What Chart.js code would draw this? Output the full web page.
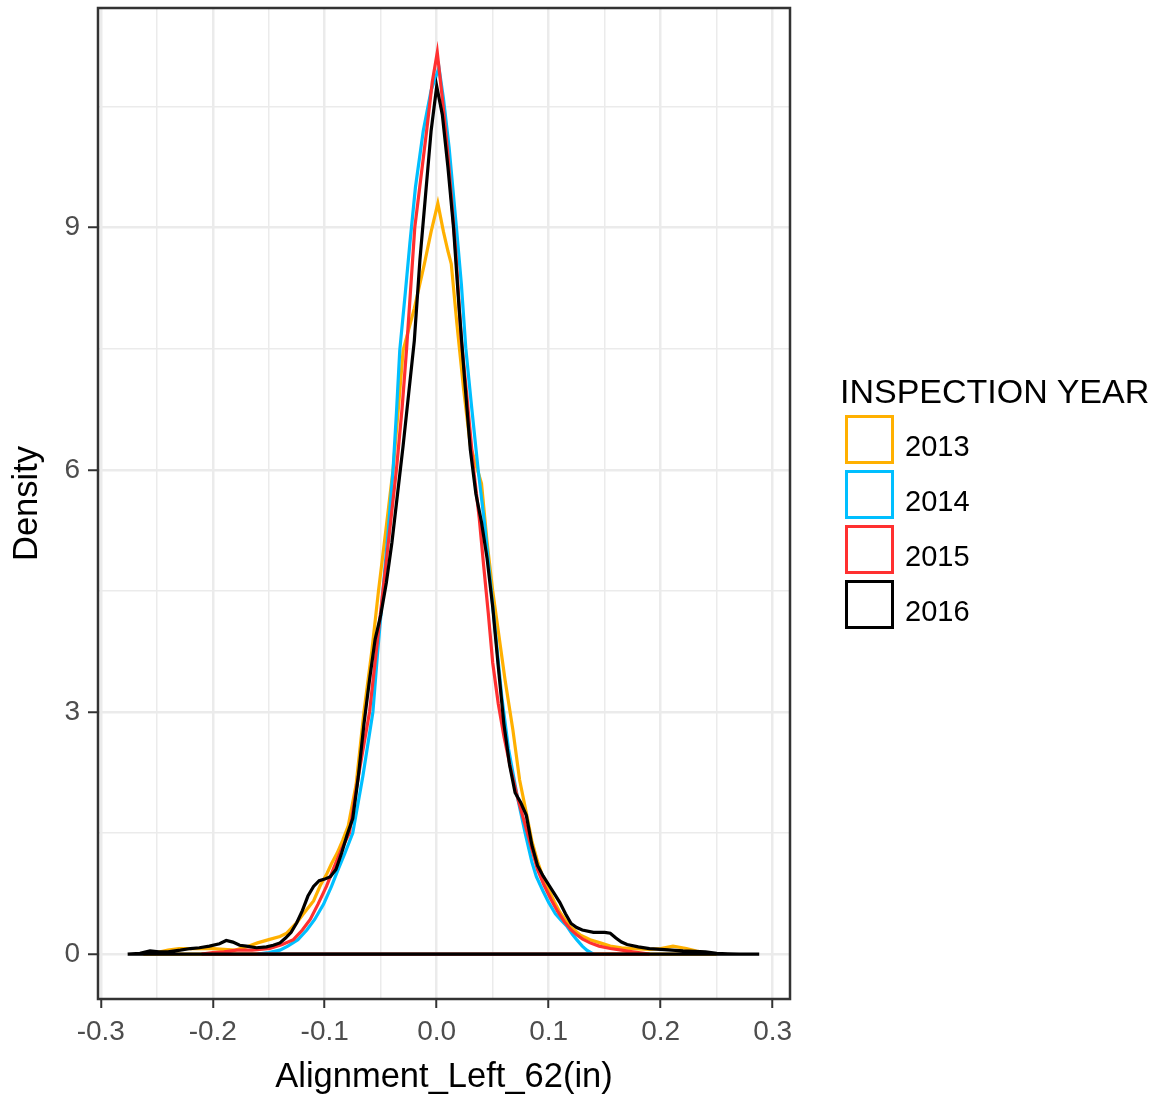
<!DOCTYPE html>
<html>
<head>
<meta charset="utf-8">
<title>Alignment_Left_62 density</title>
<script src="https://cdn.jsdelivr.net/npm/chart.js@4.4.0/dist/chart.umd.min.js"></script>
<style>
  body { margin: 0; background: #fff; }
  #wrap { position: relative; width: 1167px; height: 1101px; font-family: "Liberation Sans", Arial, sans-serif; }
  #legend .title { position: absolute; left: 840px; top: 374px; font-size: 34px; line-height: 34px; color: #000; white-space: nowrap; }
  #legend .key { position: absolute; left: 845px; width: 49px; height: 49px; box-sizing: border-box; border: 3px solid #000; background: #fff; }
  #legend .label { position: absolute; left: 905px; font-size: 29px; line-height: 29px; color: #000; }
</style>
</head>
<body>
<div id="wrap">
  <canvas id="densityChart"></canvas>
  <div id="legend"></div>
</div>
<script>
// Density curves, one x / density pair of arrays per year
const years = ["2013", "2014", "2015", "2016"]

const x2013 = [
  -0.262, -0.25, -0.24, -0.23, -0.215, -0.2, -0.19, -0.18, -0.17, -0.16,
  -0.15, -0.14, -0.134, -0.125, -0.119, -0.11, -0.104, -0.098, -0.094, -0.089,
  -0.084, -0.079, -0.072, -0.065, -0.058, -0.052, -0.045, -0.039, -0.034, -0.03,
  -0.02, -0.011, -0.005, 0.001, 0.006, 0.01, 0.013, 0.018, 0.024, 0.03,
  0.04, 0.045, 0.05, 0.055, 0.061, 0.068, 0.074, 0.08, 0.085, 0.09,
  0.095, 0.1, 0.105, 0.11, 0.115, 0.12, 0.128, 0.137, 0.146, 0.155,
  0.165, 0.175, 0.19, 0.2, 0.211, 0.223, 0.232, 0.242, 0.25,
]
const d2013 = [
  0, 0.02, 0.05, 0.07, 0.07, 0.07, 0.06, 0.05, 0.09, 0.14,
  0.18, 0.22, 0.26, 0.39, 0.5, 0.66, 0.85, 1.0, 1.12, 1.25,
  1.41, 1.59, 2.1, 3.0, 3.75, 4.5, 5.3, 6.0, 6.8, 7.48,
  8.0, 8.55, 8.95, 9.3, 8.95, 8.71, 8.55, 7.81, 7.0, 6.3,
  5.83, 5.1, 4.5, 4.0, 3.4, 2.78, 2.16, 1.75, 1.4, 1.15,
  0.95, 0.8, 0.65, 0.52, 0.42, 0.33, 0.24, 0.18, 0.14, 0.1,
  0.08, 0.07, 0.06, 0.07, 0.1, 0.07, 0.04, 0.01, 0,
]

const x2014 = [
  -0.16, -0.15, -0.14, -0.133, -0.124, -0.116, -0.109, -0.101, -0.094, -0.088,
  -0.082, -0.075, -0.066, -0.057, -0.053, -0.048, -0.043, -0.039, -0.036, -0.033,
  -0.028, -0.024, -0.019, -0.012, -0.005, 0.002, 0.006, 0.011, 0.0176, 0.022,
  0.026, 0.031, 0.037, 0.043, 0.048, 0.053, 0.058, 0.064, 0.072, 0.079,
  0.085, 0.089, 0.095, 0.1, 0.106, 0.111, 0.116, 0.121, 0.125, 0.13,
  0.134, 0.14,
]
const d2014 = [
  0, 0.02, 0.05, 0.1, 0.18, 0.3, 0.43, 0.62, 0.84, 1.05,
  1.25, 1.5, 2.2, 3.0, 3.7, 4.5, 5.3, 6.0, 6.7, 7.48,
  8.2, 8.8, 9.5, 10.2, 10.7, 10.98, 10.6, 10.0, 9.0, 8.3,
  7.5, 6.8, 6.0, 5.3, 4.6, 3.9, 3.2, 2.55, 1.95, 1.5,
  1.14, 0.96, 0.78, 0.64, 0.5, 0.42, 0.35, 0.25, 0.18, 0.1,
  0.05, 0,
]

const x2015 = [
  -0.21, -0.2, -0.19, -0.179, -0.165, -0.149, -0.138, -0.128, -0.12, -0.113,
  -0.106, -0.0985, -0.091, -0.085, -0.078, -0.07, -0.06, -0.054, -0.048, -0.042,
  -0.036, -0.031, -0.027, -0.0196, -0.009, -0.004, 0.0005, 0.005, 0.01, 0.017,
  0.022, 0.027, 0.033, 0.038, 0.042, 0.046, 0.05, 0.055, 0.06, 0.066,
  0.072, 0.078, 0.084, 0.09, 0.096, 0.102, 0.108, 0.114, 0.12, 0.125,
  0.13, 0.137, 0.145, 0.155, 0.165, 0.175, 0.19,
]
const d2015 = [
  0, 0.02, 0.03, 0.05, 0.05, 0.07, 0.12, 0.18, 0.3, 0.43,
  0.62, 0.84, 1.1, 1.3, 1.5, 2.2, 3.0, 3.75, 4.5, 5.25,
  6.0, 6.75, 7.48, 9.0, 10.2, 10.8, 11.17, 10.6, 9.9, 8.7,
  7.6, 6.9, 6.0, 5.4, 4.8, 4.23, 3.61, 3.1, 2.7, 2.3,
  1.95, 1.65, 1.35, 1.05, 0.85, 0.68, 0.53, 0.4, 0.3, 0.24,
  0.19, 0.14, 0.1, 0.07, 0.05, 0.03, 0,
]

const x2016 = [
  -0.276, -0.265, -0.256, -0.248, -0.24, -0.229, -0.22, -0.212, -0.203, -0.194,
  -0.188, -0.182, -0.176, -0.17, -0.161, -0.152, -0.146, -0.14, -0.135, -0.13,
  -0.125, -0.12, -0.115, -0.11, -0.105, -0.1, -0.095, -0.09, -0.085, -0.08,
  -0.075, -0.07, -0.065, -0.06, -0.055, -0.05, -0.045, -0.04, -0.035, -0.03,
  -0.025, -0.02, -0.015, -0.01, -0.005, 0, 0.005, 0.01, 0.015, 0.02,
  0.025, 0.03, 0.035, 0.04, 0.045, 0.05, 0.055, 0.06, 0.065, 0.07,
  0.075, 0.08, 0.085, 0.09, 0.095, 0.1, 0.105, 0.11, 0.115, 0.12,
  0.125, 0.13, 0.14, 0.15, 0.155, 0.16, 0.165, 0.17, 0.18, 0.19,
  0.2, 0.21, 0.22, 0.23, 0.24, 0.25, 0.26, 0.27, 0.288,
]
const d2016 = [
  0, 0.01, 0.04, 0.03, 0.03, 0.05, 0.07, 0.08, 0.1, 0.13,
  0.17, 0.15, 0.11, 0.1, 0.08, 0.09, 0.11, 0.14, 0.2, 0.27,
  0.39, 0.54, 0.72, 0.84, 0.91, 0.93, 0.96, 1.05, 1.25, 1.48,
  1.68, 2.2, 2.85, 3.4, 3.9, 4.2, 4.6, 5.1, 5.7, 6.3,
  6.95, 7.6, 8.6, 9.4, 10.2, 10.75, 10.4, 9.75, 9.0, 8.0,
  7.1, 6.25, 5.7, 5.35, 4.9, 4.3, 3.56, 2.85, 2.35, 2.0,
  1.88, 1.72, 1.35, 1.1, 0.97, 0.86, 0.75, 0.64, 0.5, 0.38,
  0.33, 0.3, 0.27, 0.27, 0.26, 0.2, 0.15, 0.12, 0.09, 0.07,
  0.06, 0.05, 0.04, 0.035, 0.03, 0.01, 0.005, 0.002, 0,
]

// Axis ticks (major ones get labels, the others are minor grid lines)
const xTickValues = [-0.3, -0.25, -0.2, -0.15, -0.1, -0.05, 0, 0.05, 0.1, 0.15, 0.2, 0.25, 0.3]
const xTickLabels = ["-0.3", "-0.2", "-0.1", "0.0", "0.1", "0.2", "0.3"]
const yTickValues = [0, 1.5, 3, 4.5, 6, 7.5, 9, 10.5]
const yTickLabels = ["0", "3", "6", "9"]

const seriesX = [x2013, x2014, x2015, x2016]
const seriesD = [d2013, d2014, d2015, d2016]
const lineColors = ["#FFB000", "#00BFFF", "#FF3030", "#000000"]

const FONT = "'Liberation Sans', Arial, sans-serif"

// density outline closed along y = 0, like geom_density draws it
function toPoints(xs, ds) {
  const pts = xs.map((x, i) => ({ x: x, y: ds[i] }))
  pts.push({ x: xs[0], y: 0 })
  return pts
}

function isMajorX(v) {
  return Math.abs(v * 10 - Math.round(v * 10)) < 1e-6
}

function isMajorY(v) {
  return Math.abs(v / 3 - Math.round(v / 3)) < 1e-6
}

// panel border drawn over the curves
const panelBorder = {
  id: "panelBorder",
  afterDatasetsDraw(chart) {
    const { ctx, chartArea } = chart
    ctx.save()
    ctx.strokeStyle = "#333333"
    ctx.lineWidth = 2.5
    ctx.strokeRect(chartArea.left, chartArea.top, chartArea.right - chartArea.left, chartArea.bottom - chartArea.top)
    ctx.restore()
  },
}

// Chart.js draws dataset 0 last, so put 2016 first to keep it on top
const datasets = years
  .map((year, i) => ({
    label: year,
    data: toPoints(seriesX[i], seriesD[i]),
    borderColor: lineColors[i],
    borderWidth: 3.2,
    pointRadius: 0,
    tension: 0,
    fill: false,
  }))
  .reverse()

new Chart(document.getElementById("densityChart"), {
  type: "line",
  data: { datasets: datasets },
  options: {
    responsive: true,
    maintainAspectRatio: false,
    animation: false,
    layout: { padding: { left: 0, top: 8, right: 377, bottom: 0 } },
    plugins: {
      legend: { display: false },
      tooltip: { enabled: false },
    },
    scales: {
      x: {
        type: "linear",
        min: -0.3025,
        max: 0.3155,
        afterBuildTicks: (scale) => {
          scale.ticks = xTickValues.map((v) => ({ value: v }))
        },
        afterFit: (scale) => {
          scale.height = 102
          scale.paddingLeft = 0
          scale.paddingRight = 0
        },
        ticks: {
          autoSkip: false,
          maxRotation: 0,
          padding: 7,
          color: "#4D4D4D",
          font: { family: FONT, size: 28 },
          callback: (v) => (isMajorX(v) ? xTickLabels[Math.round(v * 10) + 3] : ""),
        },
        grid: {
          color: "#EBEBEB",
          lineWidth: (ctx) => (ctx.tick && isMajorX(ctx.tick.value) ? 2.5 : 1.5),
          tickLength: 9,
          tickWidth: 2,
          tickColor: (ctx) => (ctx.tick && isMajorX(ctx.tick.value) ? "#333333" : "rgba(0,0,0,0)"),
        },
        border: { display: false },
        title: {
          display: true,
          text: "Alignment_Left_62(in)",
          color: "#000000",
          font: { family: FONT, size: 34.5 },
          padding: { top: 0, bottom: 3 },
        },
      },
      y: {
        min: -0.555,
        max: 11.72,
        afterBuildTicks: (scale) => {
          scale.ticks = yTickValues.map((v) => ({ value: v }))
        },
        afterFit: (scale) => {
          scale.width = 98
          scale.paddingTop = 0
          scale.paddingBottom = 0
        },
        ticks: {
          autoSkip: false,
          padding: 8,
          color: "#4D4D4D",
          font: { family: FONT, size: 28 },
          callback: (v) => (isMajorY(v) ? yTickLabels[Math.round(v / 3)] : ""),
        },
        grid: {
          color: "#EBEBEB",
          lineWidth: (ctx) => (ctx.tick && isMajorY(ctx.tick.value) ? 2.5 : 1.5),
          tickLength: 10,
          tickWidth: 2,
          tickColor: (ctx) => (ctx.tick && isMajorY(ctx.tick.value) ? "#333333" : "rgba(0,0,0,0)"),
        },
        border: { display: false },
        title: {
          display: true,
          text: "Density",
          color: "#000000",
          font: { family: FONT, size: 34.5 },
          padding: { top: 7, bottom: 0 },
        },
      },
    },
  },
  plugins: [panelBorder],
})

// Legend built as html next to the panel
const legend = document.getElementById("legend")
legend.innerHTML =
  '<div class="title">INSPECTION YEAR</div>' +
  years
    .map(
      (year, i) =>
        `<div class="key" style="top:${415 + i * 55}px;border-color:${lineColors[i]}"></div>` +
        `<div class="label" style="top:${432 + i * 55}px">${year}</div>`
    )
    .join("")
</script>
</body>
</html>
